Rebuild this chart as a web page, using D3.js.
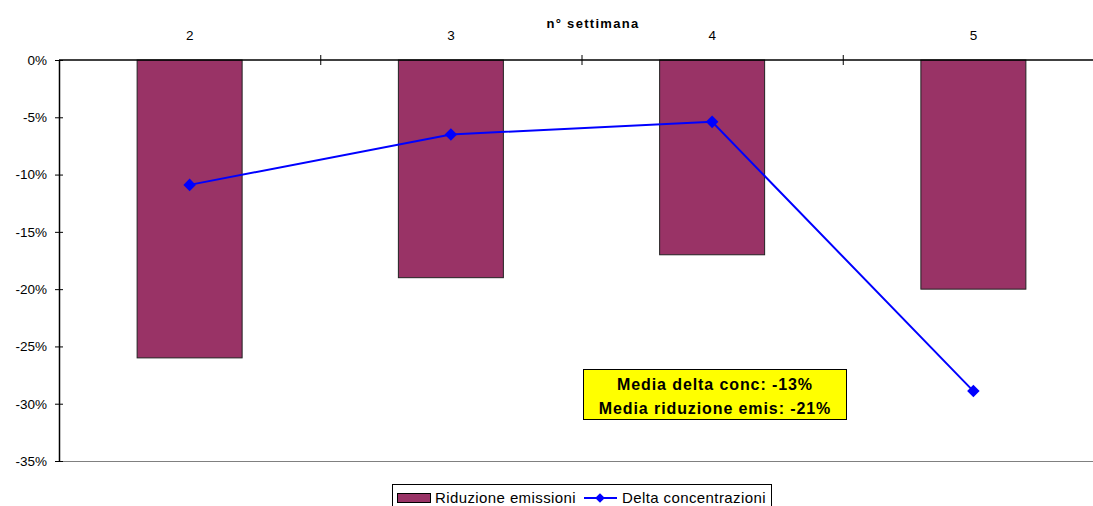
<!DOCTYPE html>
<html>
<head>
<meta charset="utf-8">
<script src="https://cdn.jsdelivr.net/npm/d3@7"></script>
<style>
  html, body { margin: 0; padding: 0; background: #fff; }
  svg { display: block; font-family: "Liberation Sans", Arial, sans-serif; }
</style>
</head>
<body>
<svg id="chart" width="1093" height="506"></svg>
<script>
// Weekly data: emission reduction (bars) and concentration change (line), in %
const weeks = ["2", "3", "4", "5"];
const riduzioneEmissioni = [-26, -19, -17, -20];
const deltaConcentrazioni = [-10.9, -6.5, -5.4, -28.9];
const yTicks = [0, -5, -10, -15, -20, -25, -30, -35];
const noteLines = ["Media delta conc: -13%", "Media riduzione emis: -21%"];

const svg = d3.select("#chart");
const plotL = 59, plotR = 1104, plotT = 60, plotB = 461;

const x = d3.scaleBand().domain(weeks).range([plotL, plotR]).paddingInner(0).paddingOuter(0);
const y = d3.scaleLinear().domain([0, -35]).range([plotT, plotB]);

// bottom edge of the plot area
svg.append("line")
  .attr("x1", plotL).attr("x2", plotR)
  .attr("y1", plotB + 0.5).attr("y2", plotB + 0.5)
  .attr("stroke", "#808080").attr("stroke-width", 1);

// bars
const barW = 105;
svg.selectAll("rect.bar").data(riduzioneEmissioni).enter().append("rect")
  .attr("class", "bar")
  .attr("x", (d, i) => x(weeks[i]) + x.bandwidth() / 2 - barW / 2)
  .attr("y", y(0))
  .attr("width", barW)
  .attr("height", d => y(d) - y(0))
  .attr("fill", "#993366")
  .attr("stroke", "#222").attr("stroke-width", 1);

// left axis
const yAxis = d3.axisLeft(y).tickValues(yTicks).tickSize(4)
  .tickFormat(d => d + "%");
const gy = svg.append("g").attr("transform", `translate(${plotL},0)`).call(yAxis);
gy.select(".domain").remove();
gy.selectAll(".tick line").attr("x1", -4).attr("x2", 4).attr("stroke", "#000");
gy.selectAll(".tick text").attr("x", -12).attr("font-size", 13.5)
  .attr("font-family", "Liberation Sans, Arial, sans-serif").attr("fill", "#000");
svg.append("line").attr("x1", plotL + 0.5).attr("x2", plotL + 0.5)
  .attr("y1", plotT).attr("y2", plotB).attr("stroke", "#000").attr("stroke-width", 1.5);

// top category axis
const xAxis = d3.axisTop(x).tickSize(0).tickPadding(20);
const gx = svg.append("g").attr("transform", `translate(0,${plotT})`).call(xAxis);
gx.select(".domain").remove();
gx.selectAll(".tick text").attr("font-size", 13.5)
  .attr("font-family", "Liberation Sans, Arial, sans-serif").attr("fill", "#000");
svg.append("line").attr("x1", plotL).attr("x2", plotR)
  .attr("y1", plotT).attr("y2", plotT).attr("stroke", "#000").attr("stroke-width", 1.5);
// category boundary tick marks
svg.selectAll("line.xtick").data(weeks.slice(1)).enter().append("line")
  .attr("class", "xtick")
  .attr("x1", d => x(d) + 0.5).attr("x2", d => x(d) + 0.5)
  .attr("y1", plotT - 5).attr("y2", plotT + 5)
  .attr("stroke", "#000");

// axis title
svg.append("text").attr("x", 593).attr("y", 28)
  .attr("text-anchor", "middle").attr("font-size", 13).attr("font-weight", "bold")
  .attr("letter-spacing", 1.3)
  .text("n° settimana");

// concentration line with diamond markers
const cx = (d, i) => x(weeks[i]) + x.bandwidth() / 2;
const line = d3.line().x(cx).y(d => y(d));
svg.append("path").datum(deltaConcentrazioni)
  .attr("d", line).attr("fill", "none")
  .attr("stroke", "#0000ff").attr("stroke-width", 2);
const diamond = d3.symbol().type(d3.symbolDiamond2).size(100);
svg.selectAll("path.mk").data(deltaConcentrazioni).enter().append("path")
  .attr("class", "mk")
  .attr("d", diamond)
  .attr("transform", (d, i) => `translate(${cx(d, i)},${y(d)})`)
  .attr("fill", "#0000ff");

// annotation box
const note = svg.append("g");
note.append("rect").attr("x", 583.5).attr("y", 369.5).attr("width", 263).attr("height", 50)
  .attr("fill", "#ffff00").attr("stroke", "#000").attr("stroke-width", 1);
note.selectAll("text").data(noteLines).enter().append("text")
  .attr("x", 715).attr("y", (d, i) => 390 + i * 24)
  .attr("text-anchor", "middle").attr("font-size", 16).attr("font-weight", "bold")
  .attr("letter-spacing", 0.9)
  .text(d => d);

// legend
const lg = svg.append("g");
lg.append("rect").attr("x", 392.5).attr("y", 484.5).attr("width", 379).attr("height", 30)
  .attr("fill", "#fff").attr("stroke", "#000").attr("stroke-width", 1);
lg.append("rect").attr("x", 397.5).attr("y", 493.5).attr("width", 33).attr("height", 9)
  .attr("fill", "#993366").attr("stroke", "#000");
lg.append("text").attr("x", 435).attr("y", 503).attr("font-size", 15)
  .attr("letter-spacing", 0.4).text("Riduzione emissioni");
lg.append("line").attr("x1", 584).attr("x2", 617).attr("y1", 498).attr("y2", 498)
  .attr("stroke", "#0000ff").attr("stroke-width", 2);
lg.append("path").attr("d", d3.symbol().type(d3.symbolDiamond2).size(60))
  .attr("transform", "translate(600,498)").attr("fill", "#0000ff");
lg.append("text").attr("x", 622).attr("y", 503).attr("font-size", 15)
  .attr("letter-spacing", 0.4).text("Delta concentrazioni");
</script>
</body>
</html>
